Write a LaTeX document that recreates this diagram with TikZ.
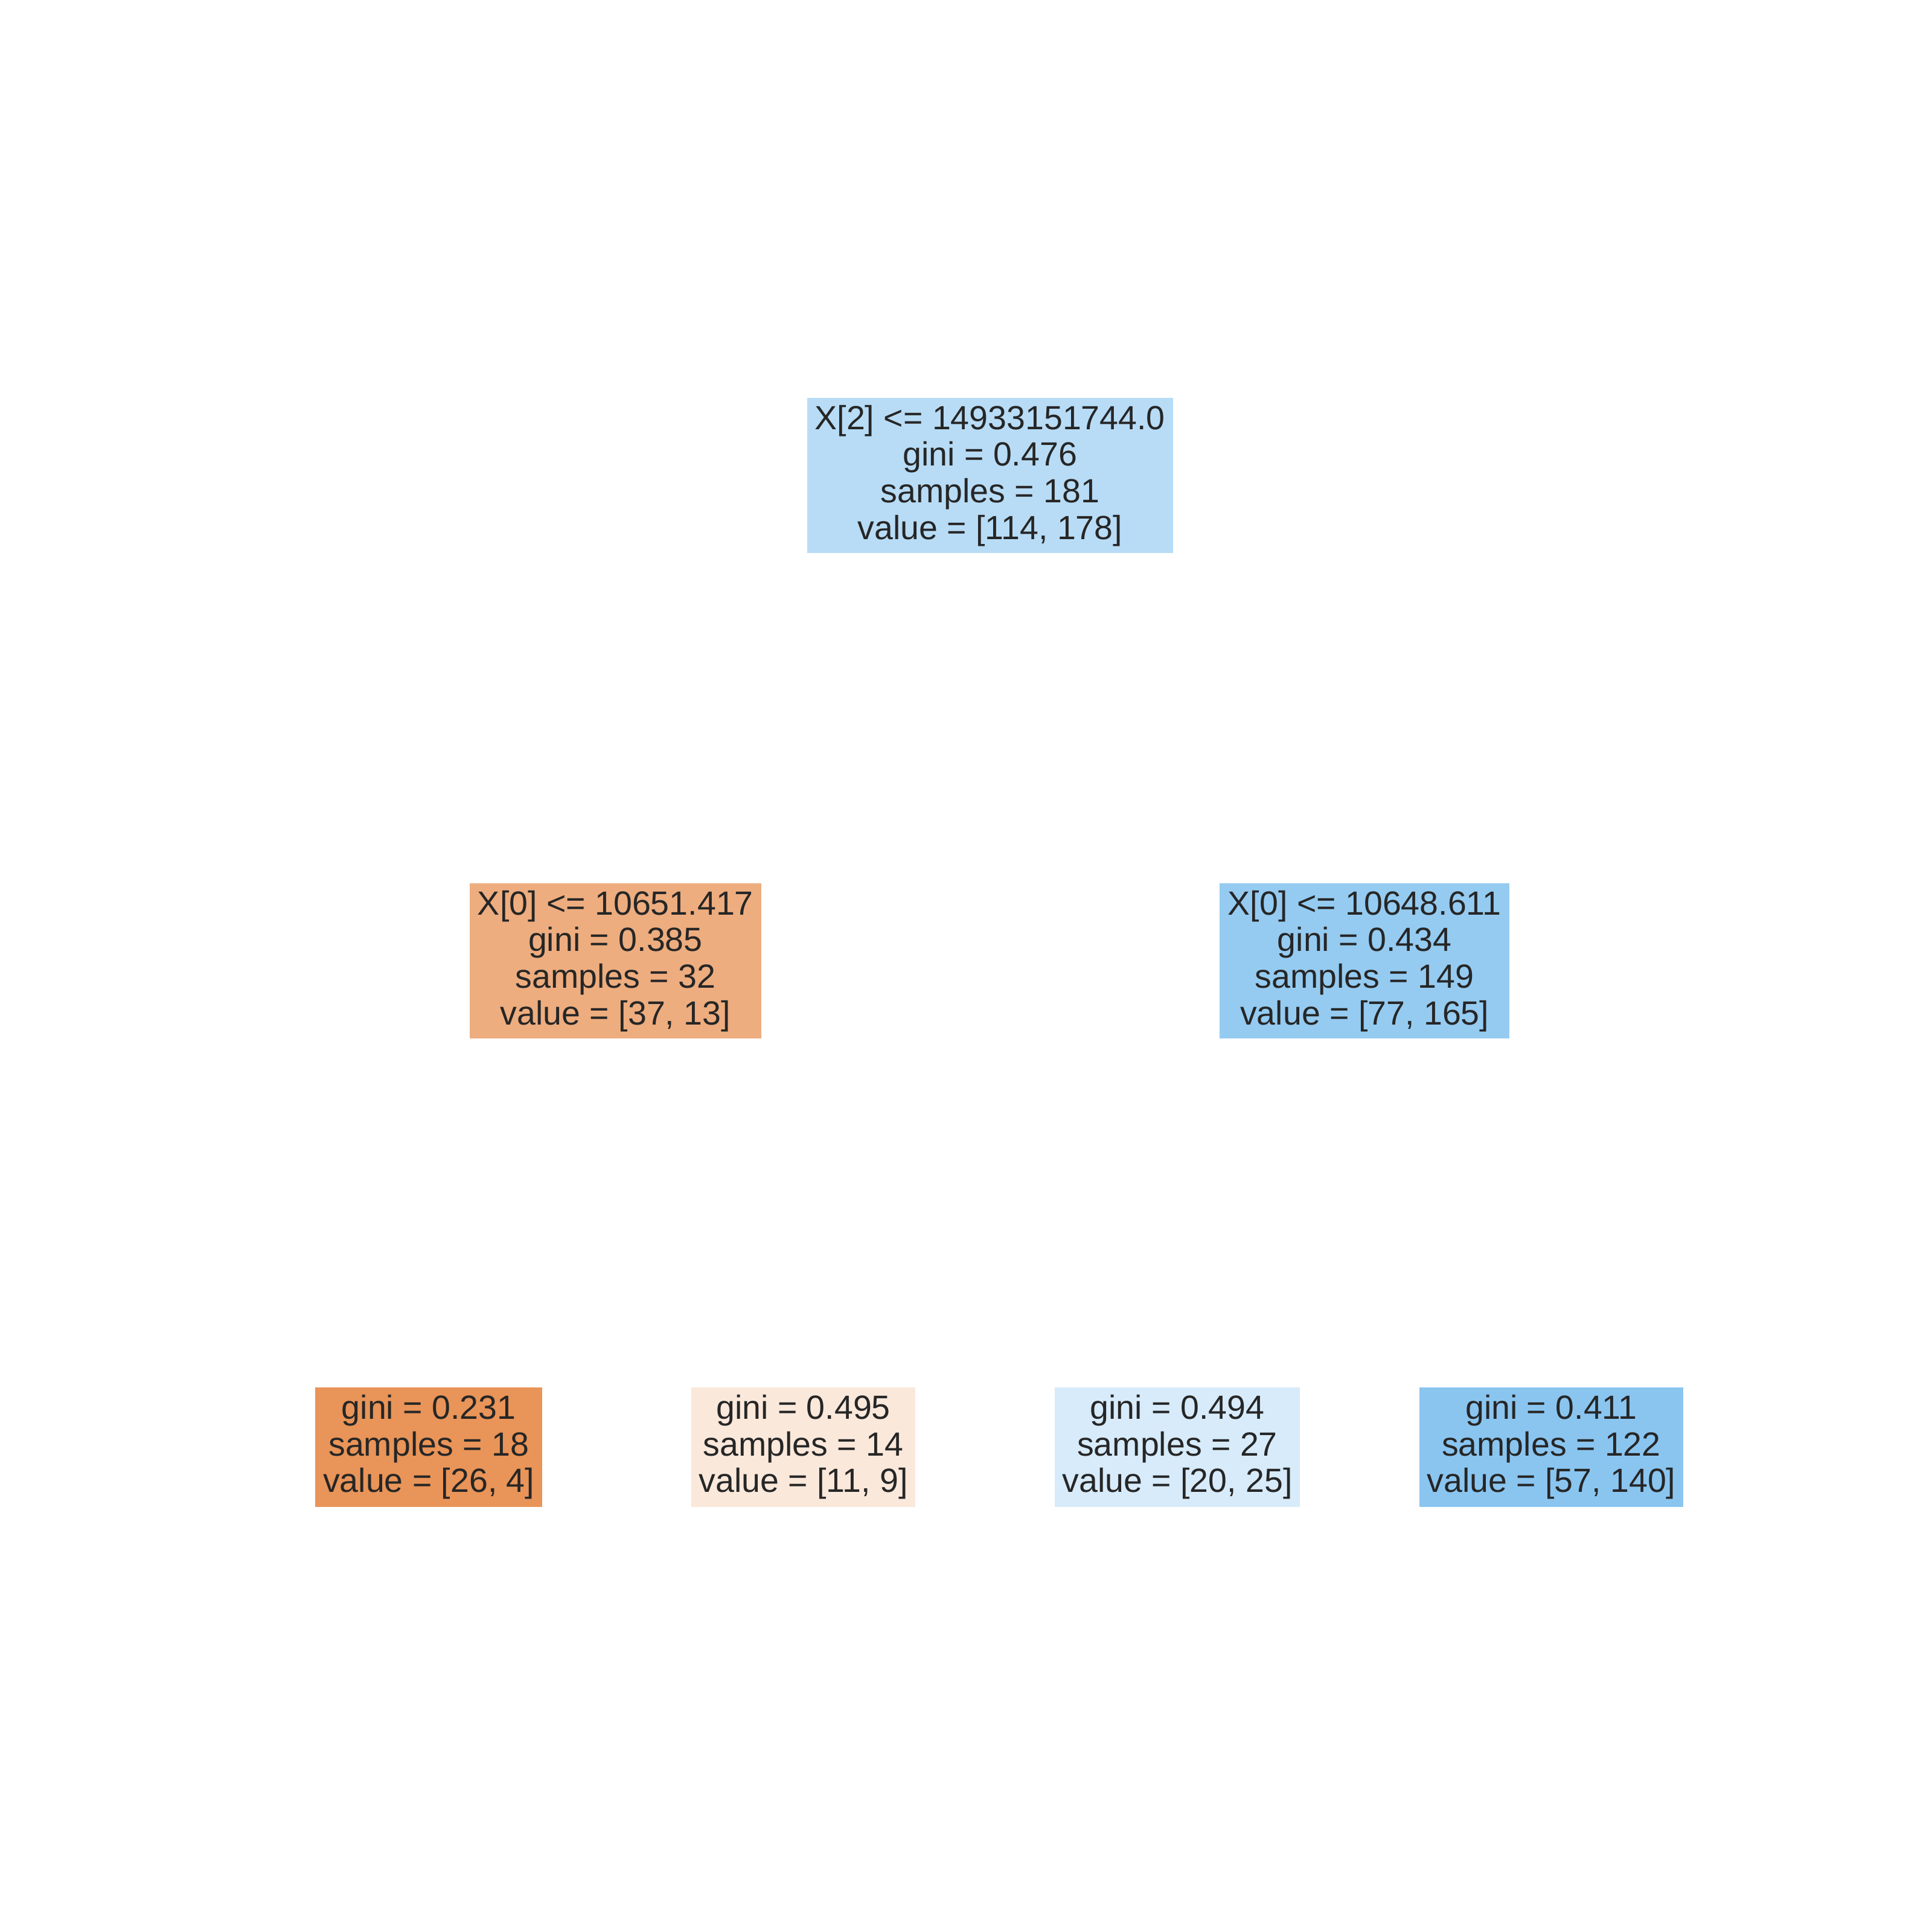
\documentclass[tikz,border=0pt]{standalone}
\usepackage{fontspec}
\setmainfont{Liberation Sans}
\definecolor{txt}{RGB}{38,38,38}
\definecolor{c0}{RGB}{184,220,246}
\definecolor{c1}{RGB}{238,173,127}
\definecolor{c2}{RGB}{149,203,241}
\definecolor{c3}{RGB}{233,148,88}
\definecolor{c4}{RGB}{250,232,219}
\definecolor{c5}{RGB}{215,235,250}
\definecolor{c6}{RGB}{138,197,240}
\begin{document}
\begin{tikzpicture}[x=0.5pt,y=-0.5pt,
  treebox/.style={rectangle, draw=none, inner sep=0pt, align=center, text=txt,
    font=\fontsize{13.6}{14.85}\selectfont},
  inner/.style={treebox, minimum height=63pt},
  leaf/.style={treebox, minimum height=48.5pt}]
\fill[white] (0,0) rectangle (1568,1568);
\useasboundingbox (0,0) rectangle (1568,1568);
\node[inner, fill=c0, minimum width=148.5pt] (root) at (803.5,386)
  {X[2] <= 14933151744.0\\gini = 0.476\\samples = 181\\value = [114, 178]};
\node[inner, fill=c1, minimum width=118.5pt] (left) at (499.5,780)
  {X[0] <= 10651.417\\gini = 0.385\\samples = 32\\value = [37, 13]};
\node[inner, fill=c2, minimum width=117.5pt] (right) at (1107.5,780)
  {X[0] <= 10648.611\\gini = 0.434\\samples = 149\\value = [77, 165]};
\node[leaf, fill=c3, minimum width=92pt] (l1) at (348,1174.5)
  {gini = 0.231\\samples = 18\\value = [26, 4]};
\node[leaf, fill=c4, minimum width=91pt] (l2) at (652,1174.5)
  {gini = 0.495\\samples = 14\\value = [11, 9]};
\node[leaf, fill=c5, minimum width=99.5pt] (l3) at (955.5,1174.5)
  {gini = 0.494\\samples = 27\\value = [20, 25]};
\node[leaf, fill=c6, minimum width=107pt] (l4) at (1259,1174.5)
  {gini = 0.411\\samples = 122\\value = [57, 140]};
\end{tikzpicture}
\end{document}
